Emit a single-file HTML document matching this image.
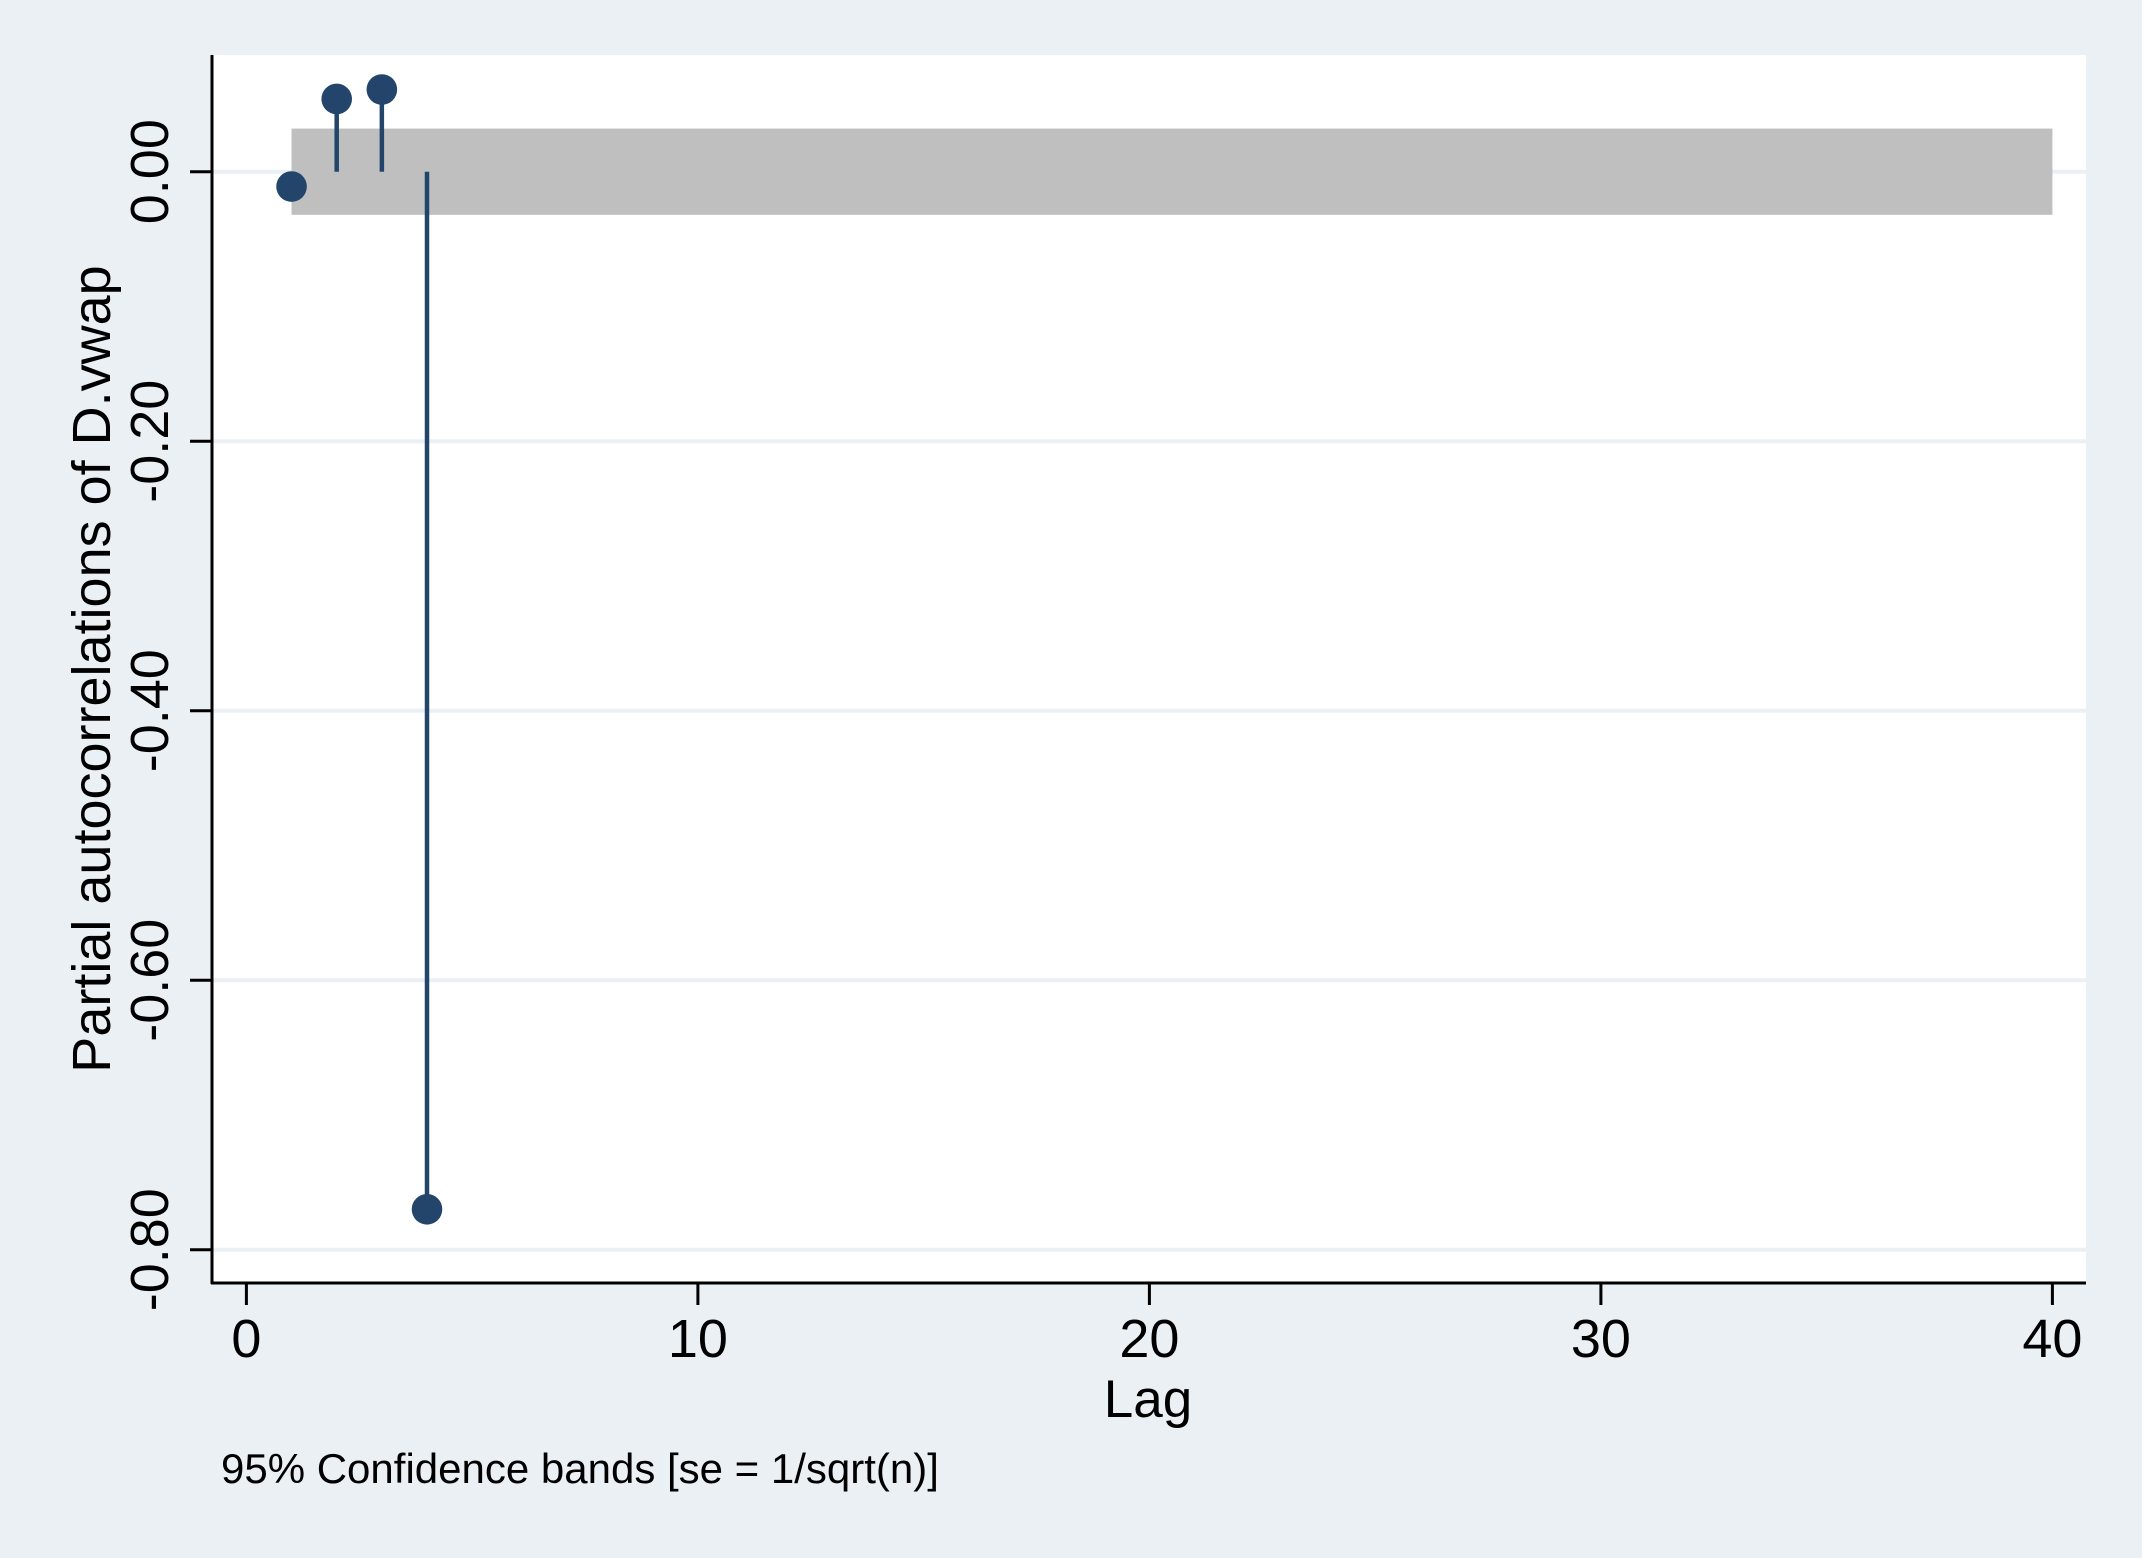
<!DOCTYPE html>
<html><head><meta charset="utf-8"><style>
html,body{margin:0;padding:0;background:#eaf0f3;}
svg{display:block;font-family:"Liberation Sans",Arial,sans-serif;}
</style></head><body>
<svg width="2142" height="1558" viewBox="0 0 2142 1558">
<rect x="0" y="0" width="2142" height="1558" fill="#eaf0f3"/>
<rect x="212" y="55" width="1874" height="1228" fill="#ffffff"/>
<g id="grid"></g><g id="band"></g><g id="marks"></g><g id="axes"></g>
<text x="1148" y="1417" font-size="53" text-anchor="middle" fill="#000">Lag</text>
<text transform="translate(110,669) rotate(-90)" font-size="54" text-anchor="middle" fill="#000">Partial autocorrelations of D.vwap</text>
<text x="221" y="1483" font-size="42" fill="#000">95% Confidence bands [se = 1/sqrt(n)]</text>
</svg>
<script>
const lags=[1,2,3,4];
const pacf=[-0.011,0.054,0.061,-0.770];
const bandLags=[1,40];
const bandHalfWidth=0.032;
const yTicks=[0,-0.2,-0.4,-0.6,-0.8];
const yTickLabels=["0.00","-0.20","-0.40","-0.60","-0.80"];
const xTicks=[0,10,20,30,40];
const xTickLabels=["0","10","20","30","40"];

const NS="http://www.w3.org/2000/svg";
const xs=v=>246.4+v*45.15;
const ys=v=>171.7-v*1347.5;
function mk(tag,attrs,parent,text){const e=document.createElementNS(NS,tag);for(const k in attrs)e.setAttribute(k,attrs[k]);if(text!==undefined)e.textContent=text;document.getElementById(parent).appendChild(e);return e;}

yTicks.forEach((t,i)=>{
  const g=mk('line',{x1:212,x2:2086,y1:ys(t),y2:ys(t),stroke:'#eaf0f3','stroke-width':4},'grid');
  
  
  const tk=mk('line',{x1:190,x2:212,y1:ys(t),y2:ys(t),stroke:'#000','stroke-width':3},'axes');
  
  
  const lb=mk('text',{transform:`translate(168,${ys(t)}) rotate(-90)`,'font-size':54,'text-anchor':'middle',fill:'#000'},'axes',yTickLabels[i]);
  
  
});
const band=mk('rect',{x:xs(bandLags[0]),y:ys(bandHalfWidth),width:xs(bandLags[1])-xs(bandLags[0]),height:ys(-bandHalfWidth)-ys(bandHalfWidth),fill:'#bfbfbf'},'band');


lags.forEach((l,i)=>{
  const s=mk('line',{x1:xs(l),x2:xs(l),y1:ys(0),y2:ys(pacf[i]),stroke:'#23456b','stroke-width':4.5},'marks');
  
  
  const c=mk('circle',{cx:xs(l),cy:ys(pacf[i]),r:15.3,fill:'#23456b'},'marks');
  
  
});
const ya=mk('line',{x1:212,x2:212,y1:55,y2:1284,stroke:'#000','stroke-width':3},'axes');


const xa=mk('line',{x1:211,x2:2086,y1:1283,y2:1283,stroke:'#000','stroke-width':3},'axes');


xTicks.forEach((t,i)=>{
  const tk=mk('line',{x1:xs(t),x2:xs(t),y1:1283,y2:1305,stroke:'#000','stroke-width':3},'axes');
  
  
  const lb=mk('text',{x:xs(t),y:1357,'font-size':54,'text-anchor':'middle',fill:'#000'},'axes',xTickLabels[i]);
  
  
});
</script>
</body></html>
